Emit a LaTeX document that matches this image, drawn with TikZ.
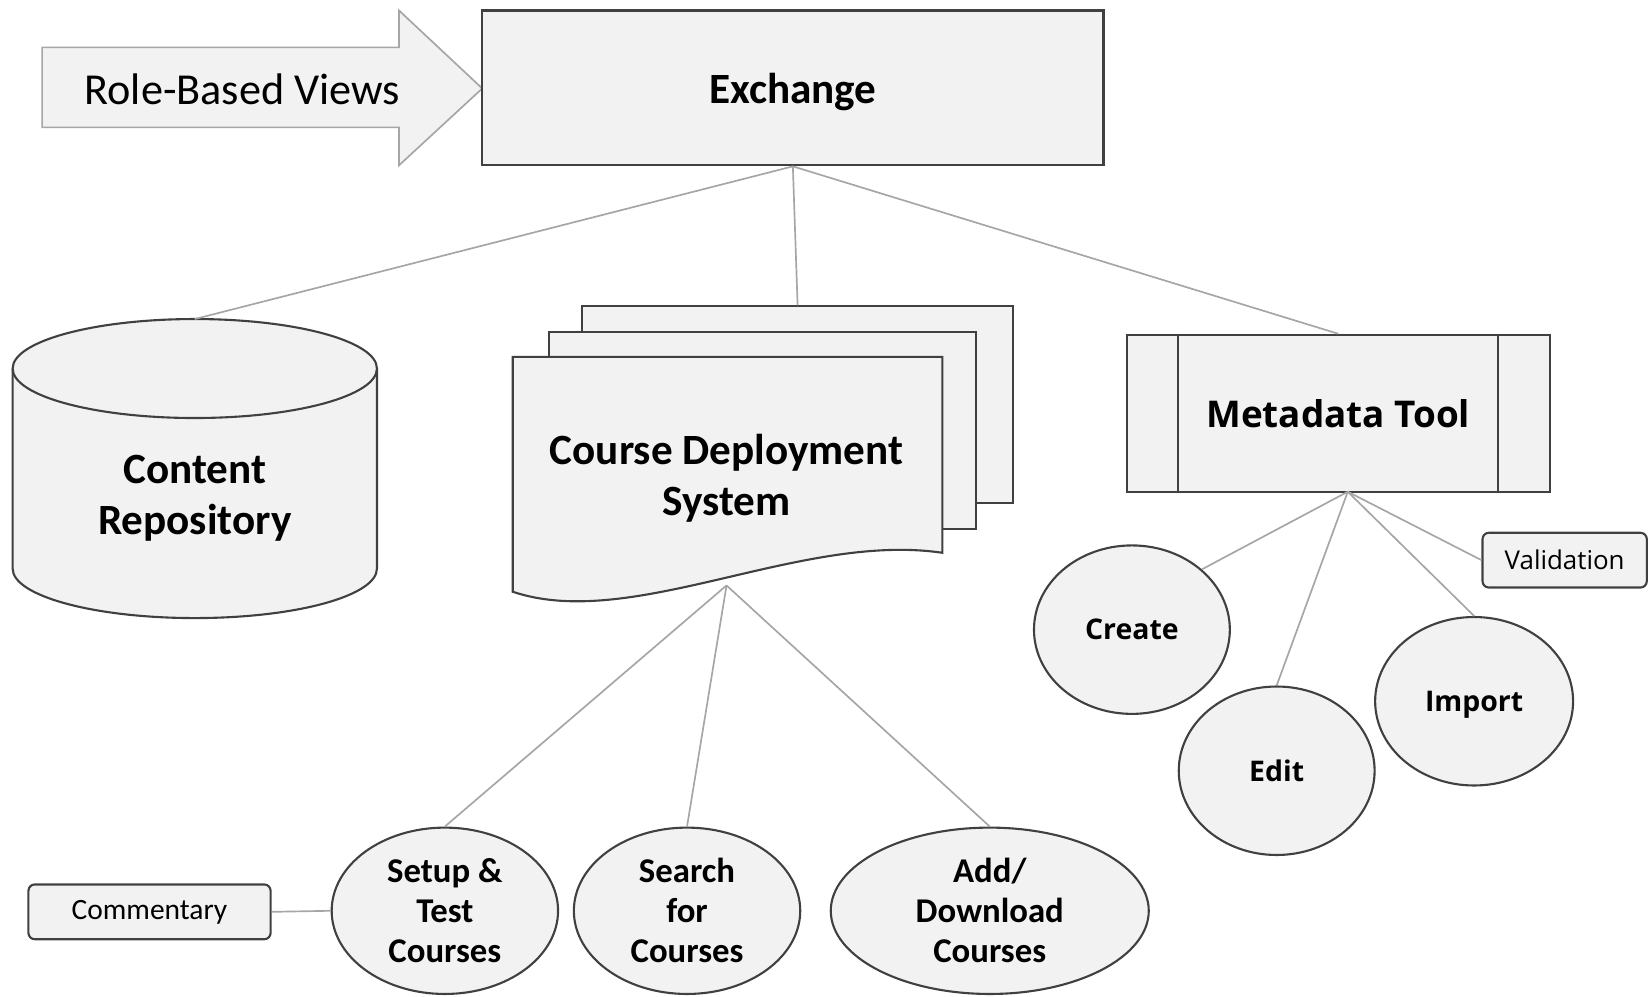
\documentclass[tikz,border=0pt]{standalone}
\usepackage{fontspec}
\setmainfont{Carlito}
\newfontfamily\opensans{Open Sans}
\usetikzlibrary{shapes.geometric}

\definecolor{boxfill}{HTML}{F2F2F2}
\definecolor{boxline}{HTML}{404040}
\definecolor{linkgray}{HTML}{A6A6A6}

\tikzset{
  box/.style={draw=boxline, fill=boxfill, line width=1pt},
  oval/.style={box, ellipse, inner sep=0pt, minimum height=79pt, align=center,
    font=\fontsize{16.5}{19}\selectfont\bfseries},
  subtask/.style={box, ellipse, inner sep=0pt, minimum width=93pt, minimum height=80pt,
    text depth=0pt, font=\opensans\fontsize{13.5}{16}\selectfont\bfseries},
  note/.style={box, rounded corners=3pt, inner sep=0pt, minimum height=26pt},
  bigtext/.style={align=center, font=\fontsize{20.5}{24}\selectfont\bfseries},
  link/.style={draw=linkgray, line width=0.8pt},
}

\begin{document}
\begin{tikzpicture}[x=0.5pt, y=-0.5pt]
  \useasboundingbox (0,0) rectangle (1568,946);

  % role arrow and exchange
  \draw[draw=linkgray, fill=boxfill, line width=0.8pt]
    (40,45) -- (379,45) -- (379,10) -- (458,84) -- (379,157) -- (379,121) -- (40,121) -- cycle;
  \node[font=\fontsize{21}{25}\selectfont] (views) at (230,85) {Role-Based Views};
  \node[box, bigtext, text depth=0pt, minimum width=295pt, minimum height=73.5pt] (exch) at (753,83.5) {Exchange};

  % content repository
  \draw[box] (12,350) -- (12,540) arc[start angle=180, end angle=0, x radius=173, y radius=47] -- (358,350);
  \draw[box] (185,350) ellipse [x radius=173, y radius=47];
  \coordinate (repotop) at (185,303);
  \node[bigtext] (repo) at (185,473) {Content\\Repository};

  % course deployment system
  \node[box, minimum width=204.5pt, minimum height=93.5pt] (sheet3) at (757.5,384.5) {};
  \node[box, minimum width=203pt, minimum height=93.5pt] (sheet2) at (724,408.5) {};
  \draw[box] (487,339) -- (895,339) -- (895,525)
    .. controls (760,505) and (600,600) .. (487,562) -- cycle;
  \coordinate (cdsbot) at (690,556);
  \node[bigtext] (cds) at (690,454) {Course Deployment\\System};

  % metadata tool
  \node[box, minimum width=201pt, minimum height=74.5pt, text depth=0pt,
    font=\opensans\fontsize{17.5}{21}\selectfont\bfseries] (meta) at (1271,392.5) {Metadata Tool};
  \draw[box] ([xshift=25pt]meta.north west) -- ([xshift=25pt]meta.south west);
  \draw[box] ([xshift=-25pt]meta.north east) -- ([xshift=-25pt]meta.south east);
  \coordinate (metabot) at (1280,467);

  \node[subtask] (create) at (1075,598) {Create};
  \node[subtask] (edit) at (1212.5,732) {Edit};
  \node[subtask, minimum width=94pt] (import) at (1400,666) {Import};
  \node[note, minimum width=78pt, font=\opensans\fontsize{12.3}{15}\selectfont] (valid) at (1486,532) {Validation};

  % course tasks
  \node[oval, minimum width=107.5pt] (setup) at (422.5,865) {Setup \&\\Test\\Courses};
  \node[oval, minimum width=107.5pt] (search) at (652.5,865) {Search\\for\\Courses};
  \node[oval, minimum width=151pt] (add) at (940,865) {Add/\\Download\\Courses};
  \node[note, minimum width=115pt, font=\fontsize{14}{17}\selectfont] (comment) at (142,866) {Commentary};

  \begin{scope}[link]
    \draw (exch.south) -- (repotop);
    \draw (exch.south) -- (sheet3.north);
    \draw (exch.south) -- (meta.north);
    \draw (cdsbot) -- (setup.north);
    \draw (cdsbot) -- (search.north);
    \draw (cdsbot) -- (add.north);
    \draw (metabot) -- (create.north east);
    \draw (metabot) -- (edit.north);
    \draw (metabot) -- (import.north);
    \draw (metabot) -- (valid.west);
    \draw (comment.east) -- (setup.west);
  \end{scope}
\end{tikzpicture}
\end{document}
